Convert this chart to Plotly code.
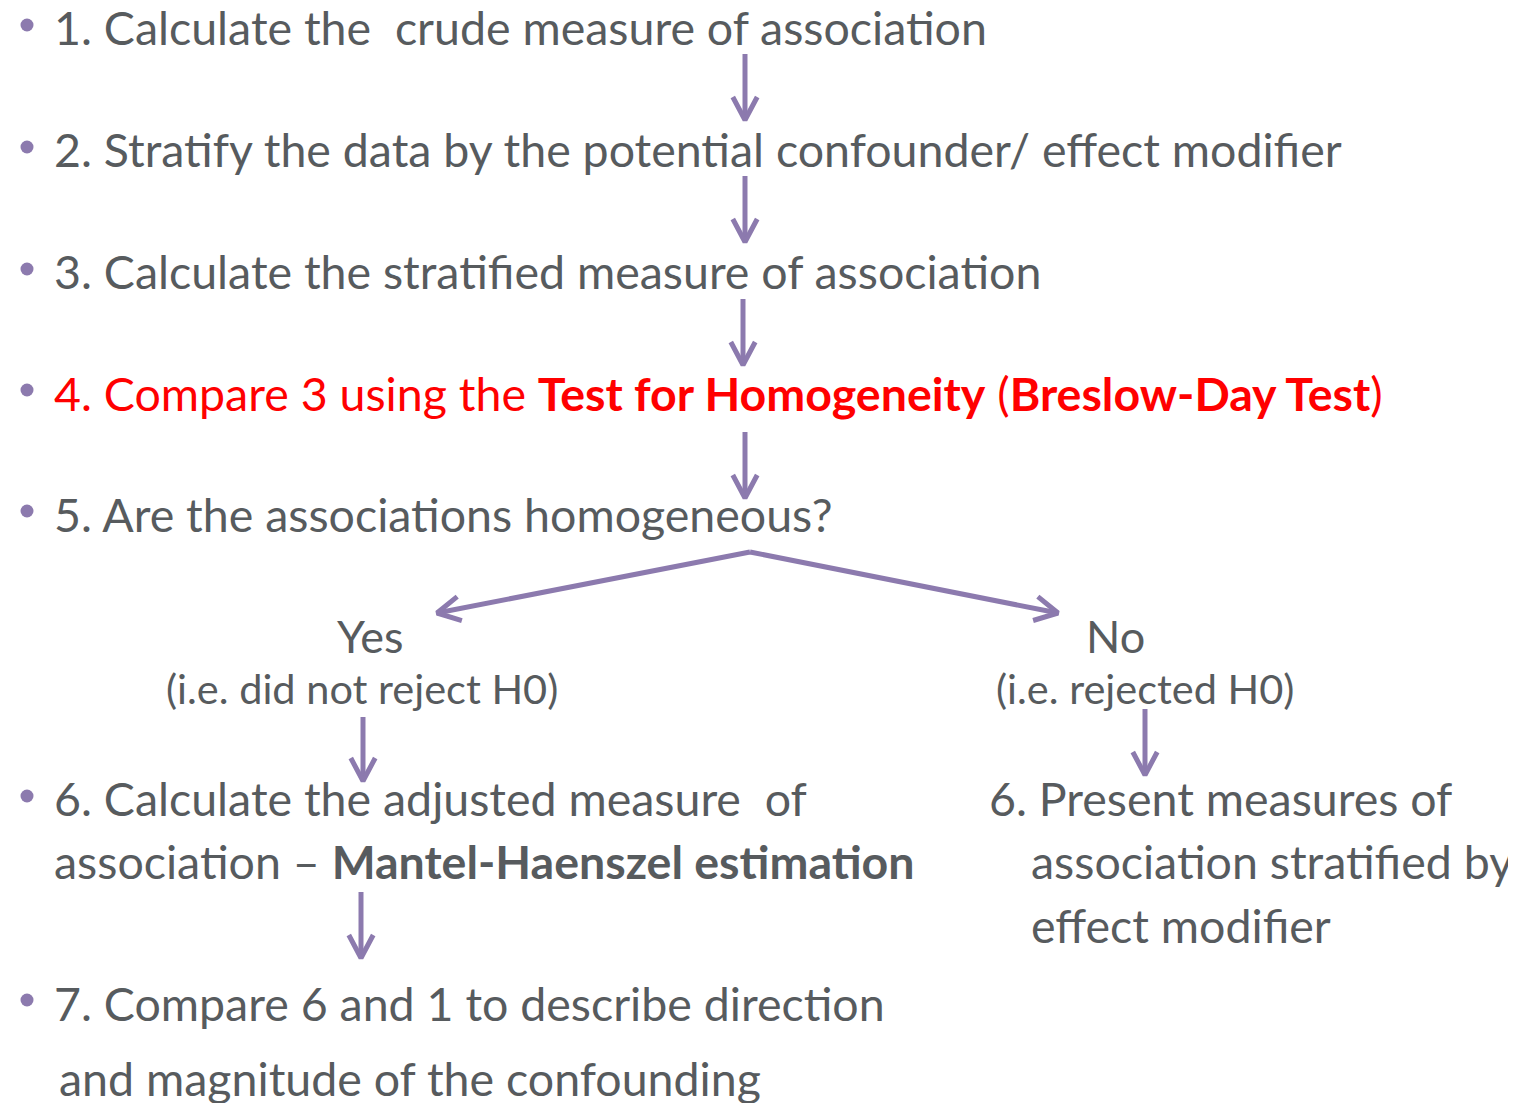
import math
import plotly.graph_objects as go

W, H = 1516, 1103
OFF = 8  # page body margin in the rendered html
FONT = "Lato, Carlito, Calibri, sans-serif"
GRAY = "#575b5e"
RED = "#ff0000"
PURPLE = "#8c7aae"

# Flowchart content
step_texts = [
    "1. Calculate the&nbsp; crude measure of association",
    "2. Stratify the data by the potential confounder/ effect modifier",
    "3. Calculate the stratified measure of association",
    "4. Compare 3 using the <b>Test for Homogeneity</b> (<b>Breslow-Day Test</b>)",
    "5. Are the associations homogeneous?",
    "6. Calculate the adjusted measure&nbsp; of",
    "association – <b>Mantel-Haenszel estimation</b>",
    "7. Compare 6 and 1 to describe direction",
    "and magnitude of the confounding",
    "6. Present measures of",
    "association stratified by",
    "effect modifier",
]
step_x = [52, 52, 52, 52, 52, 52, 52, 52, 57, 987, 1029, 1029]
step_y = [27, 149, 271, 393, 514, 798, 861, 1003, 1078, 798, 861, 925]
step_color = [GRAY, GRAY, GRAY, RED, GRAY, GRAY, GRAY, GRAY, GRAY, GRAY, GRAY, GRAY]

bullet_y = [25, 147, 269, 390, 511, 796, 1000]

branch_texts = ["Yes", "(i.e. did not reject H0)", "No", "(i.e. rejected H0)"]
branch_x = [370, 362, 1115, 1145]
branch_y = [636, 688, 636, 688]
branch_size = [45, 41.5, 45, 41.5]

# arrows: (x0, y0, x1, y1) tail -> tip
arrows = [
    (745, 54, 745, 120),
    (745, 176, 745, 242),
    (743, 299, 743, 365),
    (745, 432, 745, 498),
    (750, 552, 437, 613),
    (750, 552, 1058, 613),
    (363, 717, 363, 781),
    (1145, 709, 1145, 775),
    (361, 892, 361, 958),
]

MAIN_SIZE = 46.5

fig = go.Figure()

for (x0, y0, x1, y1) in arrows:
    fig.add_trace(go.Scatter(x=[x0, x1], y=[y0, y1], mode="lines",
                             line=dict(color=PURPLE, width=5),
                             hoverinfo="skip", showlegend=False))
    ang = math.atan2(y1 - y0, x1 - x0)
    L, a = 26, math.radians(28)
    wx = [x1 - L * math.cos(ang - a), x1, x1 - L * math.cos(ang + a)]
    wy = [y1 - L * math.sin(ang - a), y1, y1 - L * math.sin(ang + a)]
    fig.add_trace(go.Scatter(x=wx, y=wy, mode="lines",
                             line=dict(color=PURPLE, width=5),
                             hoverinfo="skip", showlegend=False))

fig.add_trace(go.Scatter(x=[27] * len(bullet_y), y=bullet_y, mode="markers",
                         marker=dict(color=PURPLE, size=13),
                         hoverinfo="skip", showlegend=False))

for t, x, y, c in zip(step_texts, step_x, step_y, step_color):
    fig.add_annotation(x=x, y=y, text=t, showarrow=False, xanchor="left",
                       yanchor="middle", font=dict(family=FONT, size=MAIN_SIZE, color=c))

for t, x, y, s in zip(branch_texts, branch_x, branch_y, branch_size):
    fig.add_annotation(x=x, y=y, text=t, showarrow=False, xanchor="center",
                       yanchor="middle", font=dict(family=FONT, size=s, color=GRAY))

fig.update_layout(
    width=W, height=H, margin=dict(l=0, r=0, t=0, b=0),
    paper_bgcolor="white", plot_bgcolor="white",
    xaxis=dict(range=[OFF, W + OFF], visible=False, fixedrange=True),
    yaxis=dict(range=[H + OFF, OFF], visible=False, fixedrange=True),
)
fig.write_html("out.html")
